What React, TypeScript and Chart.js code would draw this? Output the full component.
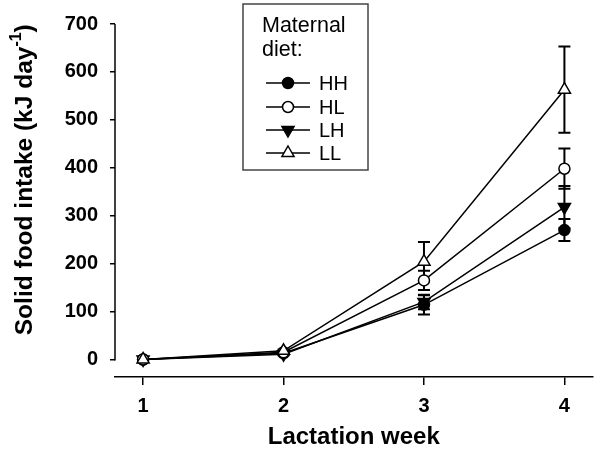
import React, { useEffect, useRef } from "react";
import { Chart, registerables } from "chart.js";

Chart.register(...registerables);

const weeks = [1, 2, 3, 4];
const hhVals = [0, 13, 114, 270];
const hhErr = [0, 2, 20, 23];
const hlVals = [0, 15, 165, 398];
const hlErr = [0, 2, 20, 42];
const lhVals = [0, 11, 120, 318];
const lhErr = [0, 2, 15, 44];
const llVals = [0, 18, 204, 563];
const llErr = [0, 3, 41, 90];
const seriesNames = ["HH", "HL", "LH", "LL"];
const yTicks = [0, 100, 200, 300, 400, 500, 600, 700];
const xTicks = [1, 2, 3, 4];
const legendTitle = ["Maternal", "diet:"];
const xTitle = "Lactation week";
const yTitleMain = "Solid food intake (kJ day";
const yTitleSup = "-1";
const yTitleEnd = ")";

const FONT = '"Liberation Sans", Arial, sans-serif';

type Style = { shape: "circle" | "triangle"; rot: number; fill: string; r: number };
const styles: Style[] = [
  { shape: "circle", rot: 0, fill: "#000", r: 5.5 },
  { shape: "circle", rot: 0, fill: "#fff", r: 5.5 },
  { shape: "triangle", rot: 180, fill: "#000", r: 7 },
  { shape: "triangle", rot: 0, fill: "#fff", r: 7 },
];

function drawMarker(ctx: CanvasRenderingContext2D, x: number, y: number, s: Style) {
  ctx.save();
  ctx.beginPath();
  if (s.shape === "circle") {
    ctx.arc(x, y, s.r, 0, Math.PI * 2);
  } else {
    const dir = s.rot === 180 ? -1 : 1;
    const r = s.r;
    ctx.moveTo(x, y - dir * r);
    ctx.lineTo(x + r * 0.866, y + dir * r * 0.5);
    ctx.lineTo(x - r * 0.866, y + dir * r * 0.5);
    ctx.closePath();
  }
  ctx.fillStyle = s.fill;
  ctx.fill();
  ctx.lineWidth = 1.5;
  ctx.strokeStyle = "#000";
  ctx.stroke();
  ctx.restore();
}

const errs = [hhErr, hlErr, lhErr, llErr];
const vals = [hhVals, hlVals, lhVals, llVals];

const customPlugin = {
  id: "custom",
  beforeDatasetsDraw(chart: any) {
    const ctx = chart.ctx as CanvasRenderingContext2D;
    const xs = chart.scales.x;
    const ys = chart.scales.y;
    ctx.save();
    ctx.strokeStyle = "#000";
    ctx.lineWidth = 1.5;
    ctx.beginPath();
    const lx = chart.chartArea.left;
    ctx.moveTo(lx, ys.getPixelForValue(yTicks[yTicks.length - 1]));
    ctx.lineTo(lx, ys.getPixelForValue(yTicks[0]) + 1);
    ctx.stroke();
    ctx.lineWidth = 2;
    for (let s = 0; s < vals.length; s++) {
      for (let i = 0; i < weeks.length; i++) {
        const e = errs[s][i];
        if (!e) continue;
        const px = xs.getPixelForValue(weeks[i]);
        const top = ys.getPixelForValue(vals[s][i] + e);
        const bot = ys.getPixelForValue(vals[s][i] - e);
        ctx.beginPath();
        ctx.moveTo(px, top);
        ctx.lineTo(px, bot);
        ctx.moveTo(px - 6, top);
        ctx.lineTo(px + 6, top);
        ctx.moveTo(px - 6, bot);
        ctx.lineTo(px + 6, bot);
        ctx.stroke();
      }
    }
    ctx.restore();
  },
  afterDraw(chart: any) {
    const ctx = chart.ctx as CanvasRenderingContext2D;
    ctx.save();
    const ys = chart.scales.y;
    const mainFont = `bold 24.5px ${FONT}`;
    const supFont = `bold 16px ${FONT}`;
    ctx.font = mainFont;
    const w1 = ctx.measureText(yTitleMain).width;
    const w3 = ctx.measureText(yTitleEnd).width;
    ctx.font = supFont;
    const w2 = ctx.measureText(yTitleSup).width;
    const total = w1 + w2 + w3;
    const cy = (ys.getPixelForValue(0) + ys.getPixelForValue(700)) / 2 - 12;
    ctx.translate(25, cy);
    ctx.rotate(-Math.PI / 2);
    ctx.fillStyle = "#000";
    ctx.textBaseline = "middle";
    ctx.textAlign = "left";
    const x0 = -total / 2;
    ctx.font = mainFont;
    ctx.fillText(yTitleMain, x0, 0);
    ctx.font = supFont;
    ctx.fillText(yTitleSup, x0 + w1, -8);
    ctx.font = mainFont;
    ctx.fillText(yTitleEnd, x0 + w1 + w2, 0);
    ctx.restore();

    ctx.save();
    const bx = 243, by = 4, bw = 125, bh = 166;
    ctx.fillStyle = "#fff";
    ctx.fillRect(bx, by, bw, bh);
    ctx.strokeStyle = "#444";
    ctx.lineWidth = 1.5;
    ctx.strokeRect(bx, by, bw, bh);
    ctx.fillStyle = "#000";
    ctx.font = `21.5px ${FONT}`;
    ctx.textBaseline = "middle";
    ctx.textAlign = "left";
    ctx.fillText(legendTitle[0], 262, 26);
    ctx.fillText(legendTitle[1], 262, 50);
    ctx.font = `20px ${FONT}`;
    const rows = [83, 107, 130, 153];
    for (let i = 0; i < seriesNames.length; i++) {
      const y = rows[i];
      ctx.strokeStyle = "#000";
      ctx.lineWidth = 1.5;
      ctx.beginPath();
      ctx.moveTo(266, y);
      ctx.lineTo(310, y);
      ctx.stroke();
      drawMarker(ctx, 288, y, styles[i]);
      ctx.fillStyle = "#000";
      ctx.fillText(seriesNames[i], 319, y + 1);
    }
    ctx.restore();
  },
};

export default function App() {
  const ref = useRef<HTMLCanvasElement>(null);
  useEffect(() => {
    if (!ref.current) return;
    const mk = (i: number, data: number[]) => ({
      label: seriesNames[i],
      data: weeks.map((w, k) => ({ x: w, y: data[k] })),
      borderColor: "#000",
      borderWidth: 1.5,
      pointStyle: styles[i].shape,
      pointRotation: styles[i].rot,
      pointRadius: styles[i].r,
      pointBackgroundColor: styles[i].fill,
      pointBorderColor: "#000",
      pointBorderWidth: 1.5,
      fill: false,
      tension: 0,
    });
    const chart = new Chart(ref.current, {
      type: "line",
      data: {
        datasets: [mk(3, llVals), mk(1, hlVals), mk(2, lhVals), mk(0, hhVals)],
      },
      options: {
        responsive: false,
        animation: false,
        events: [],
        layout: { padding: { top: 15, right: 4, left: 0, bottom: 0 } },
        plugins: { legend: { display: false }, tooltip: { enabled: false } },
        scales: {
          x: {
            type: "linear",
            min: 0.8,
            max: 4.2,
            afterBuildTicks: (s: any) => {
              s.ticks = xTicks.map((v) => ({ value: v }));
            },
            afterFit: (s: any) => {
              s.height = 79;
            },
            grid: { drawOnChartArea: false, drawTicks: true, tickLength: 8, color: "#000", lineWidth: 1.5 },
            border: { display: true, color: "#000", width: 1.5 },
            ticks: {
              color: "#000",
              font: { family: FONT, size: 20, weight: "bold" },
              padding: 9,
              callback: (v: any) => String(v),
            },
            title: {
              display: true,
              text: xTitle,
              color: "#000",
              font: { family: FONT, size: 24, weight: "bold" },
              padding: { top: 0, bottom: 4 },
            },
          },
          y: {
            type: "linear",
            min: -36.6,
            max: 700,
            afterBuildTicks: (s: any) => {
              s.ticks = yTicks.map((v) => ({ value: v }));
            },
            afterFit: (s: any) => {
              s.width = 115;
            },
            grid: { drawOnChartArea: false, drawTicks: true, tickLength: 5, color: "#000", lineWidth: 1.5 },
            border: { display: false },
            ticks: {
              color: "#000",
              font: { family: FONT, size: 20, weight: "bold" },
              padding: 12,
              callback: (v: any) => String(v),
            },
          },
        },
      },
      plugins: [customPlugin],
    } as any);
    return () => chart.destroy();
  }, []);
  return (
    <div style={{ position: "absolute", left: 0, top: 0, width: 601, height: 456, background: "#fff" }}>
      <canvas ref={ref} width={601} height={456} style={{ display: "block" }} />
    </div>
  );
}
